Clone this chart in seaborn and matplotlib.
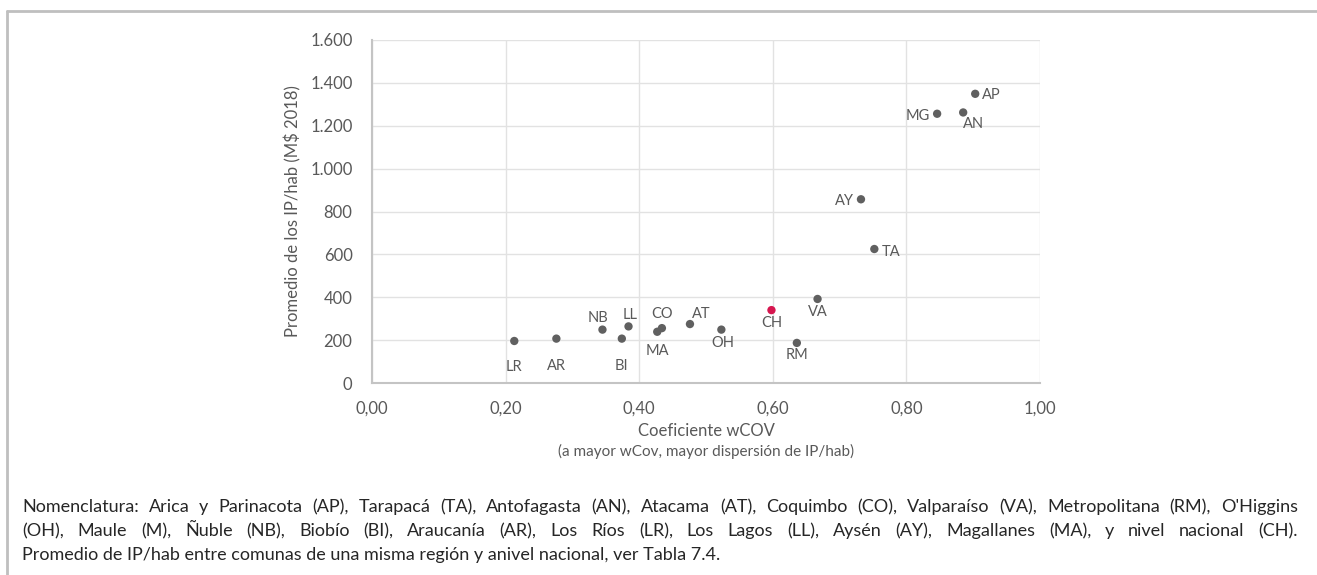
"""
Scatter: Promedio de IP/hab vs coeficiente wCOV por región
"""

import numpy as np
import pandas as pd
import matplotlib
matplotlib.use("Agg")
import matplotlib.pyplot as plt
from matplotlib.ticker import FuncFormatter
import seaborn as sns

# ─── Data ─────────────────────────────────────────────────────────────
regions = ["LR", "AR", "NB", "BI", "LL", "MA", "CO", "AT", "OH",
           "CH", "RM", "VA", "AY", "TA", "MG", "AN", "AP"]
wcov = [0.213, 0.276, 0.345, 0.374, 0.384, 0.427, 0.434, 0.476, 0.523,
        0.598, 0.636, 0.667, 0.732, 0.752, 0.846, 0.885, 0.903]
ip_hab = [196, 207, 249, 207, 264, 239, 256, 275, 249,
          340, 187, 392, 857, 625, 1256, 1262, 1349]

# label offsets in pixels (dx, dy) and alignment
label_pos = {
    "LR": (0, -26, "center"), "AR": (0, -27, "center"), "NB": (-4, 12, "center"),
    "BI": (0, -27, "center"), "LL": (2, 11, "center"), "MA": (0, -19, "center"),
    "CO": (0, 14, "center"), "AT": (11, 10, "center"), "OH": (2, -13, "center"),
    "CH": (0, -13, "center"), "RM": (0, -12, "center"), "VA": (0, -13, "center"),
    "AY": (-7, -2, "right"), "TA": (7, -3, "left"), "MG": (-7, -2, "right"),
    "AN": (10, -12, "center"), "AP": (7, -1, "left"),
}

footnote = [
    "Nomenclatura: Arica y Parinacota (AP), Tarapacá (TA), Antofagasta (AN), Atacama (AT), "
    "Coquimbo (CO), Valparaíso (VA), Metropolitana (RM), O'Higgins",
    "(OH), Maule (M), Ñuble (NB), Biobío (BI), Araucanía (AR), Los Ríos (LR), Los Lagos (LL), "
    "Aysén (AY), Magallanes (MA), y nivel nacional (CH).",
    "Promedio de IP/hab entre comunas de una misma región y anivel nacional, ver Tabla 7.4.",
]

df = pd.DataFrame({"region": regions, "wcov": wcov, "ip_hab": ip_hab})
df["grupo"] = np.where(df["region"] == "CH", "nacional", "region")

GREY = "#606060"
TEXT = "#595959"
RED = "#d6164f"

sns.set_theme(style="white")
plt.rcParams["font.family"] = ["Lato", "DejaVu Sans"]

W, H = 1317, 575
fig = plt.figure(figsize=(W / 100, H / 100), dpi=100)

# outer frame (top and left edges visible)
fig.add_artist(plt.Line2D([7 / W, 1], [1 - 10.5 / H, 1 - 10.5 / H],
                          color="#bfbfbf", lw=2, transform=fig.transFigure))
fig.add_artist(plt.Line2D([7 / W, 7 / W], [0, 1 - 10.5 / H],
                          color="#bfbfbf", lw=2, transform=fig.transFigure))

ax = fig.add_axes([372 / W, (H - 383) / H, (1040 - 372) / W, (383 - 40) / H])

sns.scatterplot(data=df, x="wcov", y="ip_hab", hue="grupo",
                palette={"region": GREY, "nacional": RED},
                s=36, edgecolor="none", legend=False, ax=ax, zorder=3)

for r, x, y in zip(regions, wcov, ip_hab):
    dx, dy, ha = label_pos[r]
    ax.annotate(r, (x, y), xytext=(dx, dy), textcoords="offset pixels",
                ha=ha, va="center", fontsize=10.5, color=TEXT)

ax.set_xlim(0, 1)
ax.set_ylim(0, 1600)
ax.set_xticks(np.arange(0, 1.01, 0.2))
ax.set_yticks(np.arange(0, 1601, 200))
ax.xaxis.set_major_formatter(FuncFormatter(lambda v, p: f"{v:.2f}".replace(".", ",")))
ax.yaxis.set_major_formatter(FuncFormatter(lambda v, p: f"{int(v):,}".replace(",", ".")))
ax.tick_params(axis="both", length=0, labelsize=12, labelcolor=TEXT)
ax.tick_params(axis="x", pad=13)
ax.tick_params(axis="y", pad=14)
ax.grid(True, color="#e2e2e2", lw=1)
ax.set_axisbelow(True)
for side in ["top", "right"]:
    ax.spines[side].set_visible(False)
for side in ["left", "bottom"]:
    ax.spines[side].set_color("#c4c4c4")
    ax.spines[side].set_linewidth(1.5)

ax.set_xlabel("")
ax.set_ylabel("")
fig.text(293 / W, 1 - 211 / H, "Promedio de los IP/hab (M$ 2018)", rotation=90,
         ha="center", va="center", fontsize=12, color=TEXT)

fig.text(706 / W, 1 - 431 / H, "Coeficiente wCOV", ha="center", va="center",
         fontsize=12, color=TEXT)
fig.text(706 / W, 1 - 451 / H, "(a mayor wCov, mayor dispersión de IP/hab)",
         ha="center", va="center", fontsize=11, color=TEXT)

# footnote, first two lines justified; words share a baseline
renderer = fig.canvas.get_renderer()
x0, x1 = 22, 1298
baselines = [512, 536, 560]
FS = 13
for i, (line, yp) in enumerate(zip(footnote, baselines)):
    if i == len(footnote) - 1:
        fig.text(x0 / W, 1 - yp / H, line, ha="left", va="baseline",
                 fontsize=FS, color="#262626")
        continue
    words = line.split(" ")
    texts = [fig.text(0, 1 - yp / H, w, ha="left", va="baseline",
                      fontsize=FS, color="#262626") for w in words]
    widths = [t.get_window_extent(renderer).width for t in texts]
    gap = ((x1 - x0) - sum(widths)) / (len(words) - 1)
    xp = x0
    for t, wd in zip(texts, widths):
        t.set_x(xp / W)
        xp += wd + gap

plt.savefig("out.png", dpi=100)
plt.close()
